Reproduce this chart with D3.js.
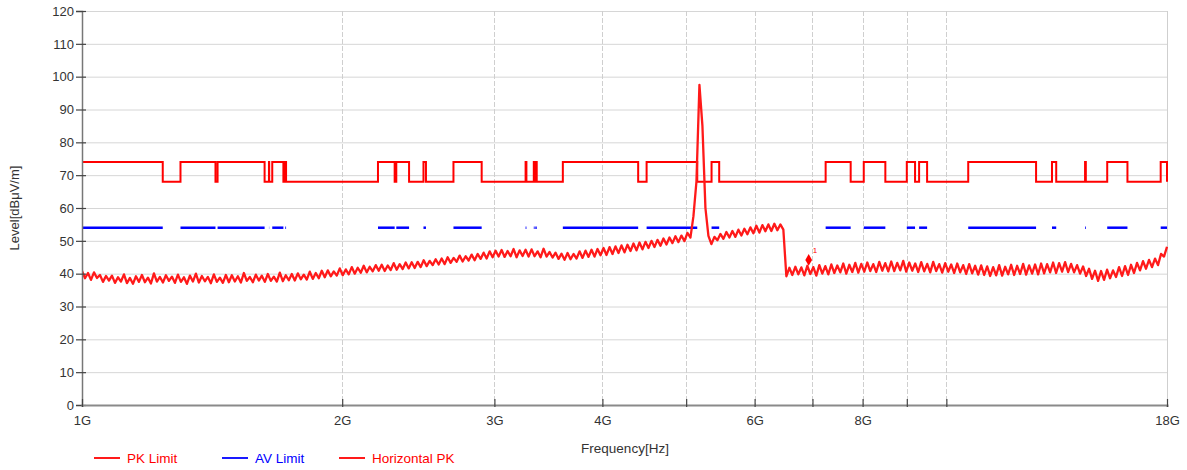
<!DOCTYPE html>
<html>
<head>
<meta charset="utf-8">
<script src="https://cdn.jsdelivr.net/npm/d3@7"></script>
<style>
  html, body { margin: 0; padding: 0; background: #fff; }
  svg { display: block; font-family: Arial, "Liberation Sans", sans-serif; }
</style>
</head>
<body>
<svg id="chart" width="1187" height="470"></svg>
<script>
// ---------------- DATA ----------------
// restricted bands (MHz): PK limit 74 dBuV/m and AV limit 54 dBuV/m apply inside, 68 dBuV/m outside
const restrictedStartMHz = [960, 1300, 1435, 1645.5, 1660, 1718.8, 2200, 2310, 2483.5, 2690, 3260, 3332, 3345.8, 3600, 4500, 5350, 7250, 8025, 9000, 9300, 10600, 13250, 14470, 15350, 17700];
const restrictedStopMHz  = [1240, 1427, 1626.5, 1646.5, 1710, 1722.2, 2300, 2390, 2500, 2900, 3267, 3339, 3358, 4400, 5150, 5460, 7750, 8500, 9200, 9500, 12700, 13400, 14500, 16200, 21400];
const pkLimitHigh = 74;
const pkLimitLow = 68;
const avLimitLevel = 54;

// Horizontal PK sweep, 1 GHz .. 18 GHz, points evenly spaced on the log axis
const traceStartGHz = 1;
const traceStopGHz = 18;
const traceLevels = [
  40.8, 38.6, 40.2, 38.1, 40.4, 38.7, 39.6, 37.5, 39.3, 37.9,
  39.4, 37.2, 38.9, 37.6, 39.8, 37.1, 38.7, 36.9, 39.2, 37.5,
  39.6, 37.4, 38.8, 37.0, 40.1, 37.6, 39.0, 37.3, 39.5, 37.8,
  39.1, 37.2, 39.7, 37.5, 38.9, 36.9, 39.4, 37.6, 40.0, 37.3,
  39.3, 37.7, 39.0, 37.1, 39.8, 37.5, 38.8, 37.2, 39.6, 37.4,
  39.5, 37.6, 39.2, 37.3, 40.2, 37.8, 39.0, 37.4, 39.7, 37.9,
  39.4, 37.5, 39.9, 37.8, 39.1, 37.6, 40.3, 37.7, 39.5, 38.0,
  39.9, 37.9, 40.1, 38.3, 39.7, 38.2, 40.6, 38.4, 40.2, 38.6,
  40.9, 38.9, 41.0, 39.2, 40.7, 39.4, 41.6, 39.5, 41.3, 39.8,
  42.0, 40.0, 41.8, 40.3, 42.4, 40.4, 42.1, 40.7, 42.6, 40.9,
  42.7, 40.8, 42.5, 41.1, 43.2, 41.2, 42.9, 41.4, 43.4, 41.6,
  43.5, 41.7, 43.6, 42.0, 44.1, 42.3, 43.9, 42.6, 44.4, 42.8,
  44.6, 42.9, 45.0, 43.3, 44.8, 43.6, 45.5, 43.7, 45.3, 44.0,
  45.8, 44.1, 46.0, 44.5, 46.4, 44.6, 46.8, 45.0, 47.0, 45.2,
  47.2, 45.1, 46.9, 45.3, 47.5, 45.0, 47.1, 45.4, 47.3, 45.2,
  47.4, 45.3, 46.8, 45.0, 47.6, 45.2, 46.6, 44.9, 46.4, 44.5,
  46.1, 44.2, 46.3, 44.4, 46.0, 44.6, 46.8, 44.8, 47.0, 45.1,
  47.3, 45.2, 47.5, 45.6, 47.8, 45.7, 48.1, 46.0, 48.3, 46.3,
  48.6, 46.5, 48.8, 46.9, 49.2, 47.1, 49.5, 47.4, 49.7, 47.8,
  50.0, 48.1, 50.3, 48.5, 50.7, 48.9, 51.0, 49.3, 51.4, 49.6,
  51.6, 49.9, 52.4, 51.0, 57.5, 68.0, 97.5, 85.0, 60.0, 51.5,
  49.0, 51.2, 50.2, 52.1, 50.6, 52.7, 51.0, 53.0, 51.2, 53.4,
  51.6, 53.7, 52.0, 54.1, 52.3, 54.6, 52.5, 54.8, 52.9, 55.0,
  53.0, 55.2, 53.2, 55.0, 53.4, 39.2, 41.8, 39.6, 42.1, 39.8,
  41.9, 39.5, 42.4, 39.9, 42.0, 39.4, 42.6, 40.0, 42.3, 39.8,
  42.8, 40.2, 42.5, 40.4, 43.1, 40.0, 42.7, 40.5, 43.3, 40.3,
  43.0, 40.6, 43.4, 40.8, 42.9, 40.5, 43.6, 40.9, 43.2, 40.7,
  43.7, 40.8, 43.3, 41.0, 43.9, 40.6, 43.4, 40.9, 43.1, 40.5,
  43.5, 40.7, 43.0, 40.4, 43.6, 40.8, 42.9, 40.3, 43.2, 40.6,
  42.8, 40.2, 43.1, 40.4, 42.6, 39.9, 42.9, 40.1, 42.4, 39.7,
  42.5, 39.6, 42.2, 39.3, 42.0, 39.5, 42.6, 39.4, 42.1, 39.8,
  42.7, 39.6, 42.4, 39.9, 43.0, 39.7, 42.5, 40.0, 42.8, 39.8,
  43.1, 40.1, 42.9, 40.4, 43.4, 40.2, 43.2, 40.6, 43.5, 40.5,
  43.0, 40.4, 42.6, 40.0, 42.2, 39.3, 41.5, 38.4, 40.9, 37.8,
  40.8, 38.1, 41.2, 38.6, 41.0, 39.0, 42.0, 39.3, 42.3, 39.6,
  42.7, 40.2, 43.3, 41.0, 43.8, 41.5, 44.2, 42.0, 44.6, 42.6,
  46.0, 45.2, 48.2
];

// marker 1
const markerFreqGHz = [6.93];
const markerLevel = [44.2];
const markerLabel = ["1"];

// axes
const yTickValues = [0, 10, 20, 30, 40, 50, 60, 70, 80, 90, 100, 110, 120];
const xTickValuesGHz = [1, 2, 3, 4, 5, 6, 7, 8, 9, 10, 18];
const xTickLabels = { 1: "1G", 2: "2G", 3: "3G", 4: "4G", 6: "6G", 8: "8G", 18: "18G" };
const legendNames = ["PK Limit", "AV Limit", "Horizontal PK"];
const legendColors = ["#ff0000", "#0000ff", "#ff0000"];

// ---------------- CHART ----------------
(function () {
const svg = d3.select("#chart");
const pLeft = 82, pRight = 1167, pTop = 11, pBottom = 405;
const x = d3.scaleLog().domain([traceStartGHz, traceStopGHz]).range([pLeft, pRight]);
const y = d3.scaleLinear().domain([0, 120]).range([pBottom, pTop]);

// gridlines
svg.append("g").selectAll("line").data(yTickValues.filter(v => v > 0)).join("line")
  .attr("x1", pLeft).attr("x2", pRight)
  .attr("y1", d => y(d) + 0.5).attr("y2", d => y(d) + 0.5)
  .attr("stroke", "#d6d6d6").attr("stroke-width", 1);
svg.append("g").selectAll("line").data(xTickValuesGHz.filter(v => v > 1)).join("line")
  .attr("x1", d => Math.round(x(d)) + 0.5).attr("x2", d => Math.round(x(d)) + 0.5)
  .attr("y1", pTop).attr("y2", pBottom)
  .attr("stroke", "#cfcfcf").attr("stroke-width", 1)
  .attr("stroke-dasharray", d => d === 18 ? null : "5,2");

// clip
svg.append("clipPath").attr("id", "plotclip").append("rect")
  .attr("x", pLeft).attr("y", pTop - 5).attr("width", pRight - pLeft + 1).attr("height", pBottom - pTop + 5);
const plot = svg.append("g").attr("clip-path", "url(#plotclip)");

// PK limit step line
const bands = restrictedStartMHz.map((s, i) => ({ s: Math.max(s / 1000, traceStartGHz), e: Math.min(restrictedStopMHz[i] / 1000, traceStopGHz) }));
const pkPts = [];
bands.forEach(b => {
  pkPts.push([b.s, pkLimitHigh]);
  pkPts.push([b.e, pkLimitLow]);
});
if (pkPts[0][0] > traceStartGHz) pkPts.unshift([traceStartGHz, pkLimitLow]);
if (pkPts[pkPts.length - 1][0] < traceStopGHz) pkPts.push([traceStopGHz, pkLimitLow]);
const stepLine = d3.line().x(d => x(d[0])).y(d => y(d[1])).curve(d3.curveStepAfter);
plot.append("path").attr("d", stepLine(pkPts))
  .attr("fill", "none").attr("stroke", "#ff0000").attr("stroke-width", 2);

// AV limit segments in restricted bands only
plot.append("g").selectAll("line").data(bands).join("line")
  .attr("x1", d => x(d.s)).attr("x2", d => x(d.e))
  .attr("y1", y(avLimitLevel)).attr("y2", y(avLimitLevel))
  .attr("stroke", "#0000ff").attr("stroke-width", 2.5);

// trace
const n = traceLevels.length;
const lf0 = Math.log10(traceStartGHz), lf1 = Math.log10(traceStopGHz);
const tracePts = traceLevels.map((v, i) => [Math.pow(10, lf0 + (lf1 - lf0) * i / (n - 1)), v]);
const line = d3.line().x(d => x(d[0])).y(d => y(d[1]));
plot.append("path").attr("d", line(tracePts))
  .attr("fill", "none").attr("stroke", "#ff1a1a").attr("stroke-width", 2.3).attr("stroke-linejoin", "round");

// marker
const mk = svg.append("g");
markerFreqGHz.forEach((f, i) => {
  mk.append("path").attr("d", d3.symbol().type(d3.symbolDiamond).size(40)())
    .attr("transform", `translate(${x(f)},${y(markerLevel[i])})`).attr("fill", "#ff0000");
  mk.append("text").attr("x", x(f) + 4).attr("y", y(markerLevel[i]) - 7)
    .attr("font-size", 8).attr("fill", "#ff0000").text(markerLabel[i]);
});

// y axis
const yAxis = svg.append("g").attr("transform", `translate(${pLeft},0)`)
  .call(d3.axisLeft(y).tickValues(yTickValues).tickSize(6).tickPadding(2));
yAxis.select(".domain").attr("stroke", "#777").attr("stroke-width", 1.5);
yAxis.selectAll(".tick line").attr("x1", 4).attr("x2", -6).attr("stroke", "#444").attr("stroke-width", 1.2);
yAxis.selectAll(".tick text").attr("font-size", 13).attr("fill", "#333")
  .attr("font-family", "Arial, 'Liberation Sans', sans-serif");

// x axis
const xAxis = svg.append("g").attr("transform", `translate(0,${pBottom})`)
  .call(d3.axisBottom(x).tickValues(xTickValuesGHz).tickSize(2).tickPadding(9)
    .tickFormat(d => xTickLabels[d] || ""));
xAxis.select(".domain").attr("stroke", "#8a8a8a").attr("stroke-width", 2);
xAxis.selectAll(".tick line").attr("y1", -6).attr("y2", 2).attr("stroke", "#444").attr("stroke-width", 1.2);
xAxis.selectAll(".tick text").attr("font-size", 13).attr("fill", "#333")
  .attr("font-family", "Arial, 'Liberation Sans', sans-serif");

// axis titles
svg.append("text").attr("x", 625).attr("y", 453).attr("text-anchor", "middle")
  .attr("font-size", 13.5).attr("fill", "#333").text("Frequency[Hz]");
svg.append("text").attr("transform", "translate(19,208) rotate(-90)").attr("text-anchor", "middle")
  .attr("font-size", 13).attr("fill", "#333").text("Level[dBμV/m]");

// legend
const legX = [94, 222, 339];
const lg = svg.append("g");
legendNames.forEach((name, i) => {
  lg.append("line").attr("x1", legX[i]).attr("x2", legX[i] + 26).attr("y1", 458).attr("y2", 458)
    .attr("stroke", legendColors[i]).attr("stroke-width", 1.8);
  lg.append("text").attr("x", legX[i] + 33).attr("y", 463).attr("font-size", 13.5)
    .attr("fill", legendColors[i]).text(name);
});
})();
</script>
</body>
</html>
